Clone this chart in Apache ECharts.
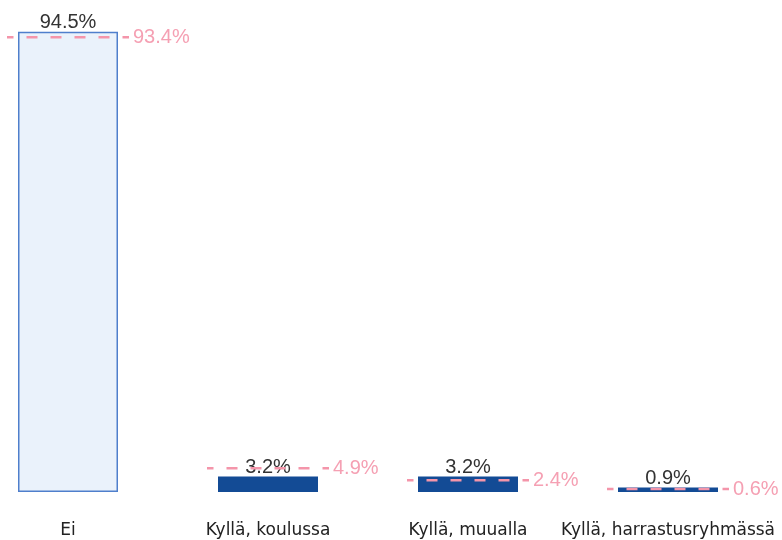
<!DOCTYPE html>
<html><head><meta charset="utf-8">
<script src="https://cdn.jsdelivr.net/npm/echarts@6/dist/echarts.min.js"></script>
<style>html,body{margin:0;padding:0;background:#fff}#c{width:782px;height:540px}</style>
</head><body><div id="c"></div>
<script>
const categories = ['Ei', 'Kyllä, koulussa', 'Kyllä, muualla', 'Kyllä, harrastusryhmässä'];
const values = [94.5, 3.2, 3.2, 0.9];
const referenceValues = [93.4, 4.9, 2.4, 0.6];

const chart = echarts.init(document.getElementById('c'));
const pink = '#f495aa';
const pinkText = '#f5a0b3';
chart.setOption({
  animation: false,
  grid: { left: -32, width: 800, top: 5, bottom: 48, outerBoundsMode: 'none', containLabel: false },
  xAxis: {
    type: 'category', data: categories,
    axisLine: { show: false }, axisTick: { show: false },
    axisLabel: { interval: 0, margin: 30, fontSize: 17, color: '#222', fontFamily: '"DejaVu Sans", sans-serif', hideOverlap: false }
  },
  yAxis: { type: 'value', min: 0, max: 100, show: false, splitLine: { show: false } },
  series: [
    {
      type: 'bar', barWidth: 100,
      data: values.map((v, i) => i === 0
        ? { value: v, itemStyle: { color: '#eaf2fb', borderColor: '#4f7fcc', borderWidth: 1.5 } }
        : { value: v, itemStyle: { color: '#134b95' } }),
      label: {
        show: true, position: 'top', distance: -1,
        formatter: p => p.value.toFixed(1) + '%',
        fontSize: 20, color: '#333', fontFamily: '"Liberation Sans", Arial, sans-serif'
      },
      z: 2
    },
    {
      type: 'custom', z: 3,
      data: referenceValues.map((v, i) => [i, v]),
      renderItem: function (params, api) {
        const p = api.coord([api.value(0), api.value(1)]);
        const band = api.size([1, 0])[0];
        const half = band * 0.305;
        return {
          type: 'group',
          children: [
            { type: 'line', shape: { x1: p[0] - half, y1: p[1], x2: p[0] + half, y2: p[1] },
              style: { stroke: pink, lineWidth: 2.5, lineDash: [11, 13], lineDashOffset: 4.5 } },
            { type: 'text', x: p[0] + half + 4, y: p[1],
              style: { text: api.value(1).toFixed(1) + '%', fill: pinkText, fontSize: 20,
                       fontFamily: '"Liberation Sans", Arial, sans-serif',
                       verticalAlign: 'middle', align: 'left' } }
          ]
        };
      }
    }
  ]
});
</script></body></html>
